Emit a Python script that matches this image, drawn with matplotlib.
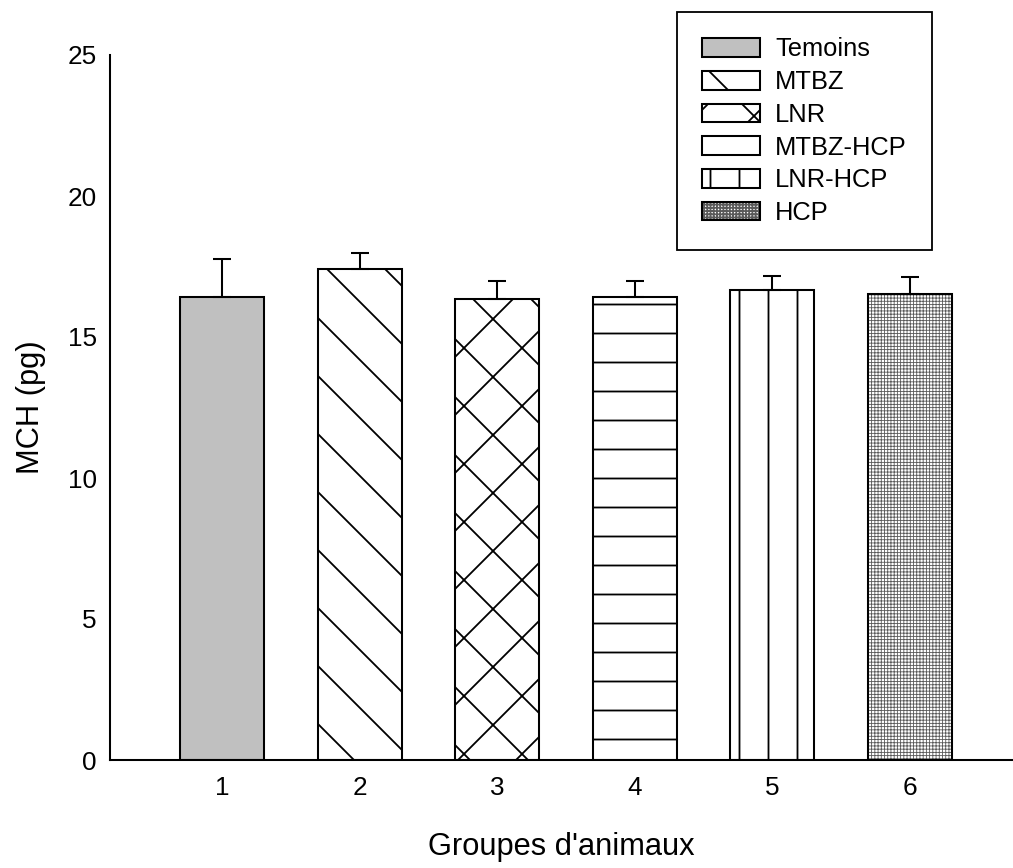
import matplotlib
matplotlib.use("Agg")
import matplotlib.pyplot as plt
import numpy as np

plt.rcParams['font.family'] = ['Liberation Sans', 'DejaVu Sans']

groups = [1, 2, 3, 4, 5, 6]
labels = ["Temoins", "MTBZ", "LNR", "MTBZ-HCP", "LNR-HCP", "HCP"]
means = [16.42, 17.40, 16.35, 16.42, 16.67, 16.54]
errors = [1.35, 0.57, 0.65, 0.56, 0.50, 0.60]
hatches = [None, "\\", "x", "-", "|", "+" * 9]
fills = ["#c0c0c0", "white", "white", "white", "white", "white"]

DPI = 174
fig = plt.figure(figsize=(1013 / DPI, 868 / DPI), dpi=DPI)
ax = fig.add_axes([110 / 1013, 108 / 868, (1013 - 110) / 1013, 705 / 868])

plt.rcParams['hatch.linewidth'] = 0.75
handles = []
for i, (g, m) in enumerate(zip(groups, means)):
    if i == 5:
        # dense gray grid hatch drawn underneath, black outline on top
        with plt.rc_context({'hatch.linewidth': 0.35}):
            b = ax.bar(g, m, width=0.61, color=fills[i], edgecolor="#5a5a5a",
                       hatch=hatches[i], linewidth=0, zorder=2)
        h = b.patches[0]
        if hasattr(h, "set_hatch_linewidth"):
            h.set_hatch_linewidth(0.35)
        o = ax.bar(g, m, width=0.61, facecolor="none", edgecolor="black",
                   linewidth=0.85, zorder=3)
        handles.append((b.patches[0], o.patches[0]))
    else:
        b = ax.bar(g, m, width=0.61, color=fills[i], edgecolor="black",
                   hatch=hatches[i], linewidth=0.85, zorder=2)
        handles.append(b.patches[0])

ax.errorbar(groups, means, yerr=[np.zeros(len(errors)), errors], fmt="none",
            ecolor="black", elinewidth=0.85, capsize=3.7, capthick=0.85, zorder=4)

ax.set_xlim(0.186, 6.749)
ax.set_ylim(0, 25)
ax.set_yticks([0, 5, 10, 15, 20, 25])
ax.set_xticks(groups)
ax.tick_params(axis="both", length=0, labelsize=10.8)
ax.tick_params(axis="y", pad=5.4)
ax.tick_params(axis="x", pad=6.5)
for s in ["top", "right"]:
    ax.spines[s].set_visible(False)
for s in ["left", "bottom"]:
    ax.spines[s].set_linewidth(0.85)

ax.set_xlabel("Groupes d'animaux", fontsize=12.8, labelpad=13.5)
ax.set_ylabel("MCH (pg)", fontsize=12.8, labelpad=9)

leg = fig.legend(handles=handles, labels=labels, loc="upper left",
                 bbox_to_anchor=(677 / 1013, 1 - 12 / 868), bbox_transform=fig.transFigure,
                 borderaxespad=0, fontsize=10.55, handlelength=2.24, handleheight=0.75,
                 handletextpad=0.6, labelspacing=0.34, borderpad=1.0,
                 fancybox=False, framealpha=1, edgecolor="black")
leg.get_frame().set_linewidth(0.75)

fig.savefig("out.png", dpi=DPI)
